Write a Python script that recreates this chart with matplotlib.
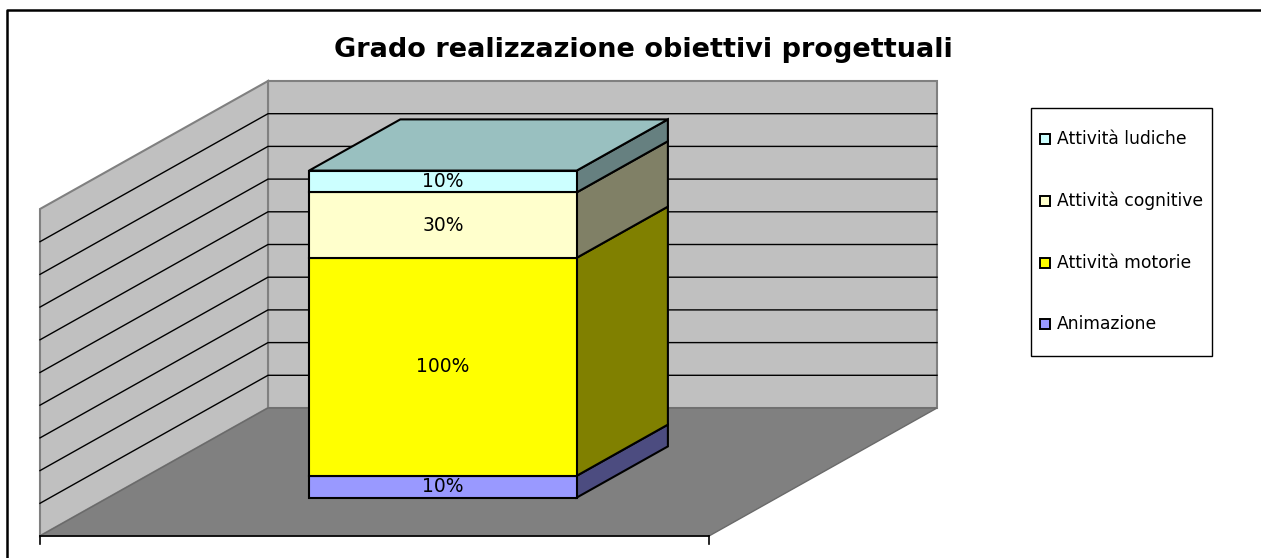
import matplotlib
matplotlib.use("Agg")
import matplotlib.pyplot as plt
from matplotlib.patches import Polygon, Rectangle
from matplotlib.lines import Line2D

# ---- data ----
series = ["Animazione", "Attività motorie", "Attività cognitive", "Attività ludiche"]
values = [10, 100, 30, 10]
labels = ["10%", "100%", "30%", "10%"]
front_colors = ["#9999FF", "#FFFF00", "#FFFFCC", "#CCFFFF"]
side_colors = ["#4C4C80", "#808000", "#808066", "#668080"]
top_color = "#99C0C0"
vmax = 150
vstep = 15
title = "Grado realizzazione obiettivi progettuali"

# ---- geometry of the oblique projection (pixels) ----
X0, Y0 = 40, 536
WIDTH = 669
DEPTH = (228, -128)
HEIGHT = 327


def proj(x, d, v):
    return (X0 + WIDTH * x + DEPTH[0] * d, Y0 - HEIGHT * v / vmax + DEPTH[1] * d)


fig = plt.figure(figsize=(12.61, 5.58), dpi=100)
ax = fig.add_axes([0, 0, 1, 1])
ax.set_xlim(0, 1261)
ax.set_ylim(558, 0)
ax.axis("off")

# outer border (left and top)
ax.add_line(Line2D([7, 7, 1265], [560, 10, 10], color="black", lw=1.8))

wall_edge = "#808080"
# back wall
back = [proj(0, 1, 0), proj(1, 1, 0), proj(1, 1, vmax), proj(0, 1, vmax)]
ax.add_patch(Polygon(back, closed=True, fc="#C0C0C0", ec=wall_edge, lw=1.5, zorder=1))
# left wall
left = [proj(0, 0, 0), proj(0, 1, 0), proj(0, 1, vmax), proj(0, 0, vmax)]
ax.add_patch(Polygon(left, closed=True, fc="#C0C0C0", ec=wall_edge, lw=1.5, zorder=1))
# floor
floor = [proj(0, 0, 0), proj(1, 0, 0), proj(1, 1, 0), proj(0, 1, 0)]
ax.add_patch(Polygon(floor, closed=True, fc="#808080", ec="#6a6a6a", lw=1.0, zorder=1))

# gridlines
v = vstep
while v < vmax - 1e-9:
    a, b, c = proj(0, 0, v), proj(0, 1, v), proj(1, 1, v)
    ax.add_line(Line2D([a[0], b[0], c[0]], [a[1], b[1], c[1]], color="black", lw=1.0, zorder=2))
    v += vstep

# bottom axis line with end ticks
p0, p1 = proj(0, 0, 0), proj(1, 0, 0)
ax.add_line(Line2D([p0[0], p1[0]], [p0[1], p1[1]], color="black", lw=1.2, zorder=3))
for p in (p0, p1):
    ax.add_line(Line2D([p[0], p[0]], [p[1], p[1] + 8], color="black", lw=1.2, zorder=3))

# stacked 3D bar
x1, x2 = 0.3, 0.7
d1, d2 = 0.3, 0.7
base = 0
for i, (val, fc, sc, lab) in enumerate(zip(values, front_colors, side_colors, labels)):
    top = base + val
    front = [proj(x1, d1, base), proj(x2, d1, base), proj(x2, d1, top), proj(x1, d1, top)]
    side = [proj(x2, d1, base), proj(x2, d2, base), proj(x2, d2, top), proj(x2, d1, top)]
    ax.add_patch(Polygon(side, closed=True, fc=sc, ec="black", lw=1.5, zorder=4))
    ax.add_patch(Polygon(front, closed=True, fc=fc, ec="black", lw=1.5, zorder=5))
    if i == len(values) - 1:
        tp = [proj(x1, d1, top), proj(x2, d1, top), proj(x2, d2, top), proj(x1, d2, top)]
        ax.add_patch(Polygon(tp, closed=True, fc=top_color, ec="black", lw=1.5, zorder=4))
    cx, cy = proj((x1 + x2) / 2, d1, (base + top) / 2)
    ax.text(cx, cy, lab, ha="center", va="center", fontsize=13.5,
            family="DejaVu Sans", zorder=6)
    base = top

# title
ax.text(643, 50, title, ha="center", va="center", fontsize=19.5, fontweight="bold",
        family="DejaVu Sans")

# legend
ax.add_patch(Rectangle((1031, 108), 181, 248, fc="white", ec="black", lw=1.0, zorder=3))
ys = [324, 263, 201, 139]
for name, fc, y in zip(series, front_colors, ys):
    ax.add_patch(Rectangle((1040, y - 5), 10, 10, fc=fc, ec="black", lw=1.4, zorder=4))
    ax.text(1057, y, name, ha="left", va="center", fontsize=12.3, family="DejaVu Sans", zorder=4)

fig.savefig("out.png", dpi=100)
